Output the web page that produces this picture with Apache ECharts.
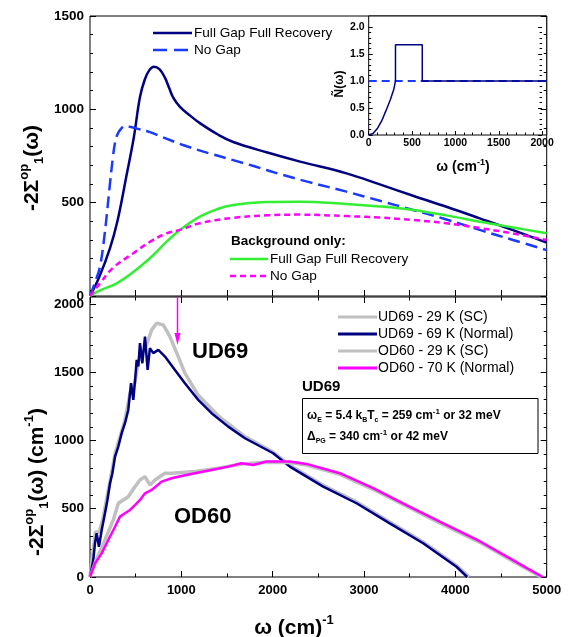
<!DOCTYPE html>
<html>
<head>
<meta charset="utf-8">
<script src="https://cdn.jsdelivr.net/npm/echarts@6/dist/echarts.min.js"></script>
<style>
html, body {margin: 0; padding: 0; background: #fff;}
#main {width: 570px; height: 637px;}
</style>
</head>
<body>
<div id="main"></div>
<script>
// top panel - model calculations, [omega (cm-1), -2Sigma1]
var fullGapFull = [[0,0],[100,100],[219,257],[300,400],[405,659],[480,850],[547,1066],[600,1160],[650,1210],[700,1228],[760,1215],[820,1170],[870,1110],[908,1066],[985,1013],[1100,965],[1203,926],[1400,865],[1568,825],[1933,770],[2300,720],[2808,657],[3173,598],[3537,537],[3902,478],[4267,416],[4631,353],[5000,286]];
var noGap = [[0,0],[60,80],[109,157],[160,330],[219,604],[250,740],[273,818],[300,865],[328,889],[383,910],[450,905],[550,892],[656,878],[800,850],[1018,809],[1300,765],[1568,728],[1800,695],[2115,648],[2400,610],[2808,559],[3173,510],[3537,461],[3902,410],[4267,354],[4631,300],[5000,246]];
var bgFullGap = [[0,0],[109,30],[292,68],[474,129],[656,202],[839,291],[985,354],[1203,425],[1386,464],[1568,488],[1933,503],[2297,505],[2808,493],[3173,480],[3537,461],[3902,432],[4267,398],[4631,367],[5000,336]];
var bgNoGap = [[0,0],[109,68],[250,150],[474,229],[656,290],[839,336],[985,354],[1203,390],[1568,419],[1933,432],[2297,436],[2808,428],[3173,420],[3537,407],[3902,390],[4267,364],[4631,335],[5000,300]];

// inset - N(omega)
var insetFullGap = [[0,0],[50,0.03],[100,0.12],[150,0.26],[200,0.45],[250,0.65],[290,0.84],[310,1.0],[310,1.67],[620,1.67],[620,1.0],[2060,1.0]];
var insetNoGap = [[0,1.0],[2060,1.0]];

// bottom panel - measured data
var ud69SC = [[0,0],[36,200],[60,330],[100,330],[140,420],[190,600],[219,700],[274,900],[330,1030],[383,1150],[440,1350],[490,1420],[530,1580],[575,1640],[620,1700],[675,1809],[730,1858],[802,1846],[875,1760],[966,1614],[1039,1492],[1185,1330],[1404,1180],[1696,1028],[2005,915],[2188,818],[2553,672],[2918,550],[3282,403],[3647,257],[4012,85],[4150,0]];
var ud69N = [[0,2],[36,124],[55,250],[73,320],[98,222],[128,344],[164,467],[190,560],[219,686],[245,760],[274,881],[310,955],[347,1053],[383,1126],[419,1223],[449,1419],[474,1297],[495,1450],[511,1590],[529,1541],[547,1712],[573,1565],[602,1760],[631,1516],[656,1675],[693,1639],[748,1663],[821,1614],[930,1516],[1039,1419],[1185,1297],[1331,1199],[1513,1101],[1696,1016],[2005,906],[2188,808],[2553,662],[2918,540],[3282,393],[3647,247],[4012,75],[4130,0]];
var od60SC = [[0,0],[60,110],[164,271],[255,418],[310,540],[364,564],[419,588],[492,661],[547,710],[602,735],[656,674],[711,710],[821,760],[894,760],[1149,772],[1404,796],[1659,828],[1933,840],[2188,838],[2371,820],[2735,752],[3100,642],[3465,518],[3829,396],[4267,254],[4631,116],[4940,0]];
var od60N = [[0,2],[55,100],[128,173],[200,271],[274,368],[328,442],[383,467],[438,491],[492,527],[547,564],[602,613],[675,637],[784,698],[894,723],[1003,740],[1149,760],[1331,784],[1513,808],[1659,833],[1787,820],[1933,845],[2188,845],[2371,828],[2735,760],[3100,650],[3465,527],[3829,405],[4267,262],[4631,124],[4956,0]];

var FONT = '"Liberation Sans", Arial, sans-serif';
var NAVY = '#000080', BLUE = '#1a3aff', GREEN = '#33ee33', MAGENTA = '#ff00ff', GREY = '#c0c0c0';

function axis(gridIndex, position, min, max, interval, opts) {
    var a = {
        type: 'value', gridIndex: gridIndex, position: position,
        min: min, max: max, interval: interval,
        splitLine: {show: false},
        axisLine: {show: false},
        axisTick: {show: true, inside: true, length: 6, lineStyle: {color: '#000'}},
        axisLabel: {show: false},
        minorTick: {show: false}
    };
    for (var k in opts) a[k] = opts[k];
    return a;
}
function label(size, margin, fmt) {
    return {show: true, color: '#000', fontFamily: FONT, fontWeight: 'bold', fontSize: size, margin: margin,
        formatter: fmt || function (v) { return String(v); }};
}
function minor(n, len) {
    return {show: true, splitNumber: n, length: len, lineStyle: {color: '#000'}};
}
function line(data, xi, yi, color, width, dash, smooth, z) {
    return {
        type: 'line', data: data, xAxisIndex: xi, yAxisIndex: yi,
        showSymbol: false, symbol: 'none', smooth: smooth, z: z || 2,
        lineStyle: {color: color, width: width, type: dash || 'solid'}
    };
}
function seg(x1, y1, x2, y2, color, width, dash) {
    return {type: 'line', shape: {x1: x1, y1: y1, x2: x2, y2: y2},
        style: {stroke: color, lineWidth: width, lineDash: dash || null}};
}
function txt(x, y, text, font, align, rich, rot) {
    var e = {type: 'text', x: x, y: y,
        style: {text: text, font: font, fill: '#000', align: align || 'left', verticalAlign: 'middle'}};
    if (rich) e.style.rich = rich;
    if (rot) e.rotation = rot;
    return e;
}

var bigRich = {
    a: {font: 'bold 21px ' + FONT, lineHeight: 28, verticalAlign: 'middle'},
    sp: {font: 'bold 13px ' + FONT, lineHeight: 13, verticalAlign: 'top'},
    sb: {font: 'bold 13px ' + FONT, lineHeight: 13, verticalAlign: 'bottom'}
};
var smallRich = {
    a: {font: 'bold 14px ' + FONT, lineHeight: 18, verticalAlign: 'middle'},
    sp: {font: 'bold 9px ' + FONT, lineHeight: 9, verticalAlign: 'top'}
};
var boxRich = {
    b: {font: 'bold 12px ' + FONT, lineHeight: 16, verticalAlign: 'middle'},
    s: {font: 'bold 7px ' + FONT, lineHeight: 7, verticalAlign: 'bottom'},
    p: {font: 'bold 8px ' + FONT, lineHeight: 8, verticalAlign: 'top'}
};

var chart = echarts.init(document.getElementById('main'));
chart.setOption({
    animation: false,
    backgroundColor: '#fff',
    grid: [
        {left: 90, top: 16, width: 456.7, height: 280, show: true, borderColor: '#000', borderWidth: 1},
        {left: 90, top: 297, width: 456.7, height: 280, show: true, borderColor: '#000', borderWidth: 1},
        {left: 368.7, top: 16, width: 178, height: 119, show: true, borderColor: '#000', borderWidth: 1, backgroundColor: '#fff'},
        // tick overlays (keep the tick spacing clean)
        {left: 90, top: 303.9, width: 456.7, height: 273.1, show: false},
        {left: 368.7, top: 27, width: 173.4, height: 108, show: false}
    ],
    xAxis: [
        axis(0, 'bottom', 0, 5000, 500, {}),
        axis(1, 'bottom', 0, 5000, 1000, {axisLabel: label(13, 7), minorTick: minor(2, 3.5)}),
        axis(1, 'top', 0, 5000, 1000, {minorTick: minor(2, 3.5)}),
        axis(2, 'bottom', 0, 2060, 500, {show: false}),
        axis(3, 'bottom', 0, 5000, 1000, {show: false}),
        axis(4, 'bottom', 0, 2000, 500, {axisTick: {show: true, inside: true, length: 4, lineStyle: {color: '#000'}},
            axisLabel: label(10.5, 3), minorTick: minor(5, 2.5)})
    ],
    yAxis: [
        axis(0, 'left', 0, 1500, 500, {axisLabel: label(13.5, 6), minorTick: minor(5, 3)}),
        axis(0, 'right', 0, 1500, 500, {minorTick: minor(5, 3)}),
        axis(1, 'left', 0, 2050, 500, {show: false}),
        axis(2, 'left', 0, 2.2, 0.5, {show: false}),
        axis(3, 'left', 0, 2000, 500, {axisLabel: label(13.5, 6), minorTick: minor(5, 3)}),
        axis(3, 'right', 0, 2000, 500, {minorTick: minor(5, 3)}),
        axis(4, 'left', 0, 2, 0.5, {axisTick: {show: true, inside: true, length: 4, lineStyle: {color: '#000'}},
            axisLabel: label(10.5, 4, function (v) { return v.toFixed(1); }), minorTick: minor(5, 2.5)}),
        axis(4, 'right', 0, 2, 0.5, {axisTick: {show: true, inside: true, length: 4, lineStyle: {color: '#000'}},
            minorTick: minor(5, 2.5)})
    ],
    series: [
        line(fullGapFull, 0, 0, NAVY, 2.5, 'solid', 0.4),
        line(noGap, 0, 0, BLUE, 2.5, [12, 6], 0.4),
        line(bgFullGap, 0, 0, GREEN, 2.5, 'solid', 0.4),
        line(bgNoGap, 0, 0, MAGENTA, 2.5, [6, 4], 0.4),
        line(insetNoGap, 3, 3, BLUE, 2, [8, 5], false, 3),
        line(insetFullGap, 3, 3, NAVY, 1.5, 'solid', false, 4),
        line(ud69SC, 1, 2, GREY, 3.5, 'solid', false),
        line(ud69N, 1, 2, NAVY, 2.5, 'solid', false),
        line(od60SC, 1, 2, GREY, 3.5, 'solid', false),
        line(od60N, 1, 2, MAGENTA, 2.5, 'solid', false)
    ],
    graphic: {elements: [
        // top legend
        seg(153, 33, 192, 33, NAVY, 2.5),
        txt(194, 33, 'Full Gap Full Recovery', '13.6px ' + FONT),
        seg(153, 50, 192, 50, BLUE, 2.5, [14, 7]),
        txt(194, 50, 'No Gap', '13.6px ' + FONT),
        txt(231, 241, 'Background only:', 'bold 13.5px ' + FONT),
        seg(230, 259, 268, 259, GREEN, 2.5),
        txt(270, 259, 'Full Gap Full Recovery', '13.6px ' + FONT),
        seg(230, 276, 268, 276, MAGENTA, 2.5, [6, 4]),
        txt(270, 276, 'No Gap', '13.6px ' + FONT),
        // axis titles
        txt(32, 168, '{a|-2Σ}{sp|op}{sb|1}{a|(ω)}', '', 'center', bigRich, Math.PI / 2),
        txt(37, 482, '{a|-2Σ}{sp|op}{sb|1}{a|(ω) (cm}{sp|-1}{a|)}', '', 'center', bigRich, Math.PI / 2),
        txt(294, 628, '{a|ω (cm)}{sp|-1}', '', 'center', bigRich),
        txt(340, 84, 'Ñ(ω)', 'bold 12px ' + FONT, 'center', null, Math.PI / 2),
        txt(463, 167, '{a|ω (cm}{sp|-1}{a|)}', '', 'center', smallRich),
        // bottom legend
        seg(338, 317, 377, 317, GREY, 3),
        txt(378, 317, 'UD69 - 29 K (SC)', '14px ' + FONT),
        seg(338, 334, 377, 334, NAVY, 3),
        txt(378, 334, 'UD69 - 69 K (Normal)', '14px ' + FONT),
        seg(338, 351, 377, 351, GREY, 3),
        txt(378, 351, 'OD60 - 29 K (SC)', '14px ' + FONT),
        seg(338, 368, 377, 368, MAGENTA, 3),
        txt(378, 368, 'OD60 - 70 K (Normal)', '14px ' + FONT),
        // annotation box
        txt(302, 387, 'UD69', 'bold 15px ' + FONT),
        {type: 'rect', shape: {x: 302.5, y: 398.5, width: 235.5, height: 55},
            style: {fill: 'none', stroke: '#000', lineWidth: 1}},
        txt(307, 416, '{b|ω}{s|E}{b| = 5.4 k}{s|B}{b|T}{s|c}{b| = 259 cm}{p|-1}{b| or 32 meV}', '', 'left', boxRich),
        txt(307, 437, '{b|Δ}{s|PG}{b| = 340 cm}{p|-1}{b| or 42 meV}', '', 'left', boxRich),
        // sample labels
        txt(192, 352, 'UD69', 'bold 22px ' + FONT),
        txt(174, 517, 'OD60', 'bold 22px ' + FONT),
        // arrow
        seg(177.5, 297, 177.5, 336, MAGENTA, 1.5),
        {type: 'polygon', shape: {points: [[174.5, 333], [180.5, 333], [177.5, 345]]},
            style: {fill: MAGENTA}}
    ]}
});
</script>
</body>
</html>
